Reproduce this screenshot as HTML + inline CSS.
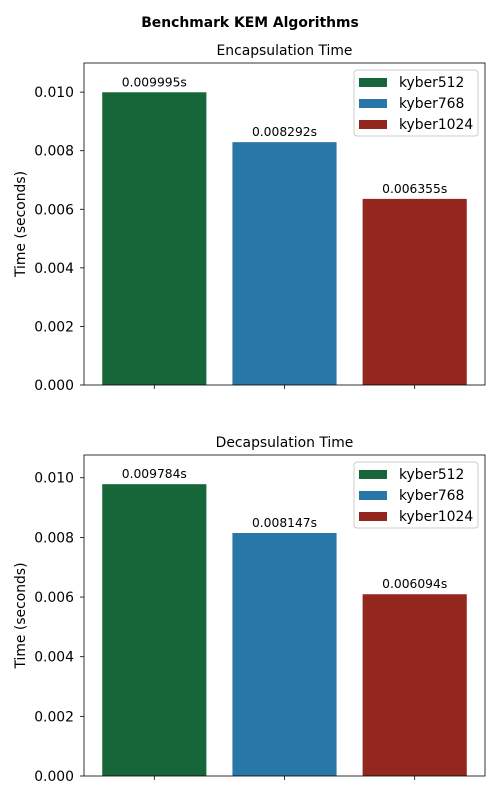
<!DOCTYPE html>
<html><head><meta charset="utf-8"><style>body{margin:0;background:#fff}svg{display:block;font-family:"DejaVu Sans","Liberation Sans",sans-serif}</style></head>
<body>
<svg id="c" width="500" height="800" xmlns="http://www.w3.org/2000/svg">
<text x="250" y="27" text-anchor="middle" font-size="13.9" font-weight="bold">Benchmark KEM Algorithms</text>
</svg>
<script>
const categories = ["kyber512","kyber768","kyber1024"];
const encValues = [0.009995,0.008292,0.006355];
const decValues = [0.009784,0.008147,0.006094];
const yTicks = [0,0.002,0.004,0.006,0.008,0.010];
const yTickLabels = ["0.000","0.002","0.004","0.006","0.008","0.010"];
const titles = ["Encapsulation Time","Decapsulation Time"];
const colors = ["#176639","#2976a8","#93261d"];
const NS="http://www.w3.org/2000/svg";
const svg=document.getElementById('c');
function mk(t,a,p){const e=document.createElementNS(NS,t);for(const k in a)e.setAttribute(k,a[k]);(p||svg).appendChild(e);return e;}
function panel(vals,top,bottom,title,idx){
  const L=84,R=485;
  const ymax=Math.max(...vals)*1.1;
  const y=v=>bottom-(v/ymax)*(bottom-top);
  const x0=-0.54,x1=2.54;
  const x=v=>L+(v-x0)/(x1-x0)*(R-L);
  const g=mk('g',{});
  
  
  const t=mk('text',{x:(L+R)/2,y:top-8,'text-anchor':'middle','font-size':13.9},g);t.textContent=title;
  
  
  vals.forEach((v,i)=>{
    const r=mk('rect',{x:x(i-0.4),y:y(v),width:x(i+0.4)-x(i-0.4),height:bottom-y(v),fill:colors[i]},g);
    
    
    const l=mk('text',{x:x(i),y:y(v)-6,'text-anchor':'middle','font-size':12.3},g);l.textContent=v.toFixed(6)+'s';
    
    
    mk('line',{x1:x(i),x2:x(i),y1:bottom,y2:bottom+4,stroke:'#000','stroke-width':0.8},g);
  });
  yTicks.forEach((v,i)=>{
    mk('line',{x1:L-4,x2:L,y1:y(v),y2:y(v),stroke:'#000','stroke-width':0.8},g);
    const l=mk('text',{x:L-10,y:y(v)+5,'text-anchor':'end','font-size':13.9},g);l.textContent=yTickLabels[i];
    
    
  });
  mk('rect',{x:L,y:top,width:R-L,height:bottom-top,fill:'none',stroke:'#000','stroke-width':0.8},g);
  const yt=mk('text',{x:0,y:0,'text-anchor':'middle','font-size':13.9,transform:`translate(25,${(top+bottom)/2}) rotate(-90)`},g);yt.textContent='Time (seconds)';
  
  
  const lg=mk('g',{},g);
  
  
  mk('rect',{x:354,y:top+7,width:124,height:66,rx:3,fill:'#fff','fill-opacity':0.8,stroke:'#ccc'},lg);
  categories.forEach((c,i)=>{
    mk('rect',{x:359,y:top+15+i*21,width:28,height:9,fill:colors[i]},lg);
    const lt=mk('text',{x:399,y:top+24+i*21,'font-size':13.9},lg);lt.textContent=c;
    
    
  });
}
panel(encValues,63,385,titles[0],'encapsulation');
panel(decValues,455,776,titles[1],'decapsulation');
</script>
</body></html>
